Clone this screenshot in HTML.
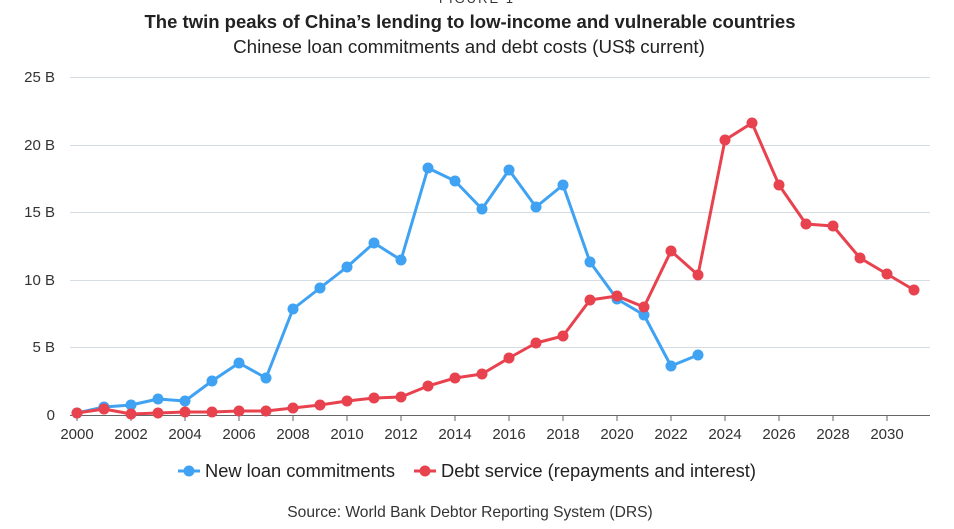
<!DOCTYPE html>
<html><head><meta charset="utf-8"><style>
body{margin:0;background:#fff;}
svg text{font-family:"Liberation Sans",sans-serif;}
</style></head><body>
<svg width="954" height="524" viewBox="0 0 954 524" xmlns="http://www.w3.org/2000/svg">
<rect width="954" height="524" fill="#fff"/>
<text x="477" y="3" text-anchor="middle" font-size="13" fill="#333" letter-spacing="2">FIGURE 1</text>
<text x="470" y="28" text-anchor="middle" font-size="18.5" font-weight="bold" fill="#222">The twin peaks of China’s lending to low-income and vulnerable countries</text>
<text x="469" y="53" text-anchor="middle" font-size="18.8" fill="#222">Chinese loan commitments and debt costs (US$ current)</text>
<g stroke="#d6dce4" stroke-width="1">
<line x1="70" y1="77.5" x2="930" y2="77.5"/>
<line x1="70" y1="145.5" x2="930" y2="145.5"/>
<line x1="70" y1="212.5" x2="930" y2="212.5"/>
<line x1="70" y1="280.5" x2="930" y2="280.5"/>
<line x1="70" y1="347.5" x2="930" y2="347.5"/>
</g>
<line x1="70" y1="415.5" x2="930" y2="415.5" stroke="#666" stroke-width="1"/>
<g font-size="15" fill="#333" text-anchor="end">
<text x="55" y="82">25 B</text><text x="55" y="150">20 B</text><text x="55" y="217">15 B</text>
<text x="55" y="285">10 B</text><text x="55" y="352">5 B</text><text x="55" y="420">0</text>
</g>
<g font-size="15" fill="#333" text-anchor="middle">
<text x="77" y="439">2000</text><text x="131" y="439">2002</text><text x="185" y="439">2004</text>
<text x="239" y="439">2006</text><text x="293" y="439">2008</text><text x="347" y="439">2010</text>
<text x="401" y="439">2012</text><text x="455" y="439">2014</text><text x="509" y="439">2016</text>
<text x="563" y="439">2018</text><text x="617" y="439">2020</text><text x="671" y="439">2022</text>
<text x="725" y="439">2024</text><text x="779" y="439">2026</text><text x="833" y="439">2028</text>
<text x="887" y="439">2030</text>
</g>
<g stroke="#666"><line x1="77" y1="415" x2="77" y2="421"/><line x1="131" y1="415" x2="131" y2="421"/><line x1="185" y1="415" x2="185" y2="421"/><line x1="239" y1="415" x2="239" y2="421"/><line x1="293" y1="415" x2="293" y2="421"/><line x1="347" y1="415" x2="347" y2="421"/><line x1="401" y1="415" x2="401" y2="421"/><line x1="455" y1="415" x2="455" y2="421"/><line x1="509" y1="415" x2="509" y2="421"/><line x1="563" y1="415" x2="563" y2="421"/><line x1="617" y1="415" x2="617" y2="421"/><line x1="671" y1="415" x2="671" y2="421"/><line x1="725" y1="415" x2="725" y2="421"/><line x1="779" y1="415" x2="779" y2="421"/><line x1="833" y1="415" x2="833" y2="421"/><line x1="887" y1="415" x2="887" y2="421"/></g>
<polyline fill="none" stroke="#3fa2f2" stroke-width="3" stroke-linejoin="round" points="77,413 104,407 131,405 158,399 185,401 212,381 239,363 266,378 293,309 320,288 347,267 374,243 401,260 428,168 455,181 482,209 509,170 536,207 563,185 590,262 617,299 644,315 671,366 698,355"/>
<g fill="#3fa2f2">
<circle cx="77" cy="413" r="5.5"/><circle cx="104" cy="407" r="5.5"/><circle cx="131" cy="405" r="5.5"/><circle cx="158" cy="399" r="5.5"/><circle cx="185" cy="401" r="5.5"/><circle cx="212" cy="381" r="5.5"/><circle cx="239" cy="363" r="5.5"/><circle cx="266" cy="378" r="5.5"/><circle cx="293" cy="309" r="5.5"/><circle cx="320" cy="288" r="5.5"/><circle cx="347" cy="267" r="5.5"/><circle cx="374" cy="243" r="5.5"/><circle cx="401" cy="260" r="5.5"/><circle cx="428" cy="168" r="5.5"/><circle cx="455" cy="181" r="5.5"/><circle cx="482" cy="209" r="5.5"/><circle cx="509" cy="170" r="5.5"/><circle cx="536" cy="207" r="5.5"/><circle cx="563" cy="185" r="5.5"/><circle cx="590" cy="262" r="5.5"/><circle cx="617" cy="299" r="5.5"/><circle cx="644" cy="315" r="5.5"/><circle cx="671" cy="366" r="5.5"/><circle cx="698" cy="355" r="5.5"/>
</g>
<polyline fill="none" stroke="#e8424f" stroke-width="3" stroke-linejoin="round" points="77,413 104,409 131,414 158,413 185,412 212,412 239,411 266,411 293,408 320,405 347,401 374,398 401,397 428,386 455,378 482,374 509,358 536,343 563,336 590,300 617,296 644,307 671,251 698,275 725,140 752,123 779,185 806,224 833,226 860,258 887,274 914,290"/>
<g fill="#e8424f">
<circle cx="77" cy="413" r="5.5"/><circle cx="104" cy="409" r="5.5"/><circle cx="131" cy="414" r="5.5"/><circle cx="158" cy="413" r="5.5"/><circle cx="185" cy="412" r="5.5"/><circle cx="212" cy="412" r="5.5"/><circle cx="239" cy="411" r="5.5"/><circle cx="266" cy="411" r="5.5"/><circle cx="293" cy="408" r="5.5"/><circle cx="320" cy="405" r="5.5"/><circle cx="347" cy="401" r="5.5"/><circle cx="374" cy="398" r="5.5"/><circle cx="401" cy="397" r="5.5"/><circle cx="428" cy="386" r="5.5"/><circle cx="455" cy="378" r="5.5"/><circle cx="482" cy="374" r="5.5"/><circle cx="509" cy="358" r="5.5"/><circle cx="536" cy="343" r="5.5"/><circle cx="563" cy="336" r="5.5"/><circle cx="590" cy="300" r="5.5"/><circle cx="617" cy="296" r="5.5"/><circle cx="644" cy="307" r="5.5"/><circle cx="671" cy="251" r="5.5"/><circle cx="698" cy="275" r="5.5"/><circle cx="725" cy="140" r="5.5"/><circle cx="752" cy="123" r="5.5"/><circle cx="779" cy="185" r="5.5"/><circle cx="806" cy="224" r="5.5"/><circle cx="833" cy="226" r="5.5"/><circle cx="860" cy="258" r="5.5"/><circle cx="887" cy="274" r="5.5"/><circle cx="914" cy="290" r="5.5"/>
</g>
<line x1="178" y1="471" x2="200" y2="471" stroke="#3fa2f2" stroke-width="3"/><circle cx="189" cy="471" r="5.5" fill="#3fa2f2"/>
<text x="205" y="477" font-size="18.3" fill="#222">New loan commitments</text>
<line x1="414" y1="471" x2="436" y2="471" stroke="#e8424f" stroke-width="3"/><circle cx="425" cy="471" r="5.5" fill="#e8424f"/>
<text x="441" y="477" font-size="18.3" fill="#222">Debt service (repayments and interest)</text>
<text x="470" y="517" text-anchor="middle" font-size="15.6" fill="#333">Source: World Bank Debtor Reporting System (DRS)</text>
</svg>
</body></html>
